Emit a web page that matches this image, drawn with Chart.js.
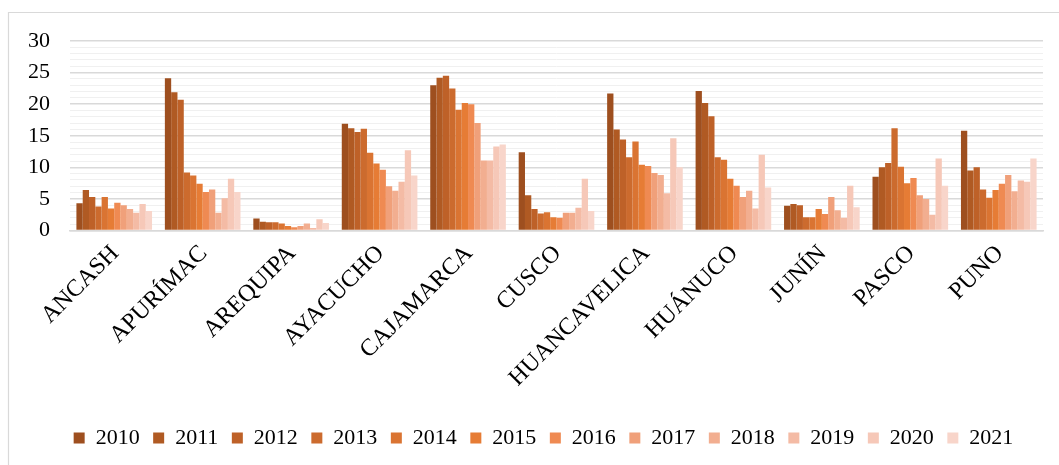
<!DOCTYPE html>
<html>
<head>
<meta charset="utf-8">
<script src="https://cdn.jsdelivr.net/npm/chart.js@4"></script>
<style>
html,body{margin:0;padding:0;background:#fff;}
#wrap{position:relative;width:1059px;height:465px;}
canvas{display:block;}
</style>
</head>
<body>
<div id="wrap"><canvas id="c" width="1059" height="465"></canvas></div>
<script>
const categories = ['ANCASH','APURÍMAC','AREQUIPA','AYACUCHO','CAJAMARCA','CUSCO','HUANCAVELICA','HUÁNUCO','JUNÍN','PASCO','PUNO'];
const years = ['2010','2011','2012','2013','2014','2015','2016','2017','2018','2019','2020','2021'];

const ancash       = [4.3, 6.4, 5.3, 3.8, 5.3, 3.5, 4.4, 4.0, 3.4, 2.8, 4.2, 3.1];
const apurimac     = [24.1, 21.9, 20.7, 9.2, 8.7, 7.4, 6.1, 6.5, 2.8, 5.1, 8.2, 6.1];
const arequipa     = [1.9, 1.4, 1.3, 1.3, 1.1, 0.7, 0.5, 0.7, 1.1, 0.4, 1.8, 1.2];
const ayacucho     = [16.9, 16.2, 15.6, 16.1, 12.3, 10.6, 9.6, 7.0, 6.3, 7.7, 12.7, 8.7];
const cajamarca    = [23.0, 24.2, 24.5, 22.5, 19.1, 20.2, 20.0, 17.0, 11.1, 11.1, 13.3, 13.6];
const cusco        = [12.4, 5.6, 3.4, 2.7, 2.9, 2.1, 2.0, 2.8, 2.8, 3.6, 8.2, 3.1];
const huancavelica = [21.7, 16.0, 14.4, 11.6, 14.1, 10.4, 10.2, 9.1, 8.8, 5.9, 14.6, 10.0];
const huanuco      = [22.1, 20.2, 18.1, 11.6, 11.2, 8.2, 7.1, 5.3, 6.3, 3.5, 12.0, 6.8];
const junin        = [3.9, 4.2, 4.0, 2.1, 2.1, 3.4, 2.6, 5.3, 3.2, 2.0, 7.1, 3.7];
const pasco        = [8.5, 10.0, 10.7, 16.2, 10.1, 7.5, 8.3, 5.6, 5.0, 2.5, 11.4, 7.1];
const puno         = [15.8, 9.5, 10.0, 6.5, 5.2, 6.4, 7.4, 8.8, 6.2, 7.9, 7.7, 11.4];

const yTickLabels = [0, 5, 10, 15, 20, 25, 30];

const byRegion = [ancash, apurimac, arequipa, ayacucho, cajamarca, cusco, huancavelica, huanuco, junin, pasco, puno];
const colors = ['#9E4F1F','#B05A23','#BE6128','#CC6B2E','#DA7432','#E67C35','#EF8A52','#F0A07A','#F2AE90','#F4BBA5','#F6C8B8','#F8D5CA'];

const datasets = years.map((y, i) => ({
  label: y,
  data: byRegion.map(r => r[i]),
  backgroundColor: colors[i],
  borderWidth: 0,
  barPercentage: 1.0,
  categoryPercentage: 0.855
}));

const FONT = "'Liberation Serif', 'Times New Roman', serif";

const framePlugin = {
  id: 'frame',
  beforeDraw(chart) {
    const ctx = chart.ctx;
    ctx.save();
    ctx.fillStyle = '#fff';
    ctx.fillRect(0, 0, chart.width, chart.height);
    ctx.strokeStyle = '#d9d9d9';
    ctx.lineWidth = 1.2;
    ctx.beginPath();
    ctx.moveTo(8.5, chart.height + 5);
    ctx.lineTo(8.5, 12.5);
    ctx.lineTo(chart.width + 5, 12.5);
    ctx.stroke();
    ctx.restore();
  },
  afterLayout(chart) {
    if (chart.legend) { chart.legend.left += 22; chart.legend.right += 22; }
  }
};

new Chart(document.getElementById('c'), {
  type: 'bar',
  data: { labels: categories, datasets },
  plugins: [framePlugin],
  options: {
    responsive: false,
    animation: false,
    layout: { padding: { left: 0, right: 16, top: 41, bottom: 6 } },
    plugins: {
      tooltip: { enabled: false },
      legend: {
        position: 'bottom',
        labels: {
          font: { family: FONT, size: 22 },
          color: '#000',
          boxWidth: 11,
          boxHeight: 11,
          padding: 13.5
        }
      }
    },
    scales: {
      x: {
        grid: { display: false, drawTicks: false },
        border: { color: '#d9d9d9', width: 1.5 },
        ticks: {
          font: { family: FONT, size: 24 },
          color: '#000',
          minRotation: 45,
          maxRotation: 45,
          padding: 9,
          labelOffset: 1
        },
        afterFit(scale) { scale.height = 183; }
      },
      y: {
        min: 0,
        max: 30,
        grid: {
          drawTicks: false,
          color: ctx => (ctx.tick && yTickLabels.includes(ctx.tick.value)) ? '#d9d9d9' : '#f0f0f0',
          lineWidth: ctx => (ctx.tick && yTickLabels.includes(ctx.tick.value)) ? 1.5 : 1
        },
        border: { display: false },
        ticks: {
          stepSize: 1,
          autoSkip: false,
          padding: 20,
          font: { family: FONT, size: 22 },
          color: '#000',
          callback: v => yTickLabels.includes(v) ? String(v) : ''
        },
        afterFit(scale) { scale.width = 70; }
      }
    }
  }
});
</script>
</body>
</html>
